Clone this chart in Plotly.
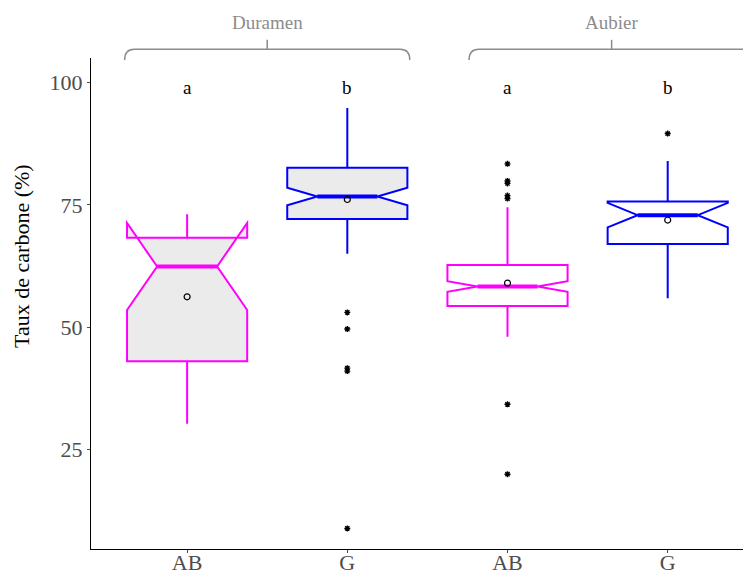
import plotly.graph_objects as go

# ---- data ----
positions = [0, 1, 2, 3]
tick_labels = ["AB", "G", "AB", "G"]
groups = ["Duramen", "Duramen", "Aubier", "Aubier"]
group_labels = ["Duramen", "Aubier"]
letters = ["a", "b", "a", "b"]
y_title = "Taux de carbone (%)"

q1 = [43.0, 72.1, 54.3, 67.0]
median = [62.4, 76.7, 58.3, 72.9]
q3 = [68.3, 82.6, 62.7, 75.7]
lowerfence = [30.2, 65.0, 48.0, 55.9]
upperfence = [73.1, 94.8, 74.5, 84.0]
notchspan = [8.9, 1.8, 1.1, 2.5]
means = [56.2, 76.1, 59.0, 71.9]

outliers = [
    [],
    [53.0, 49.6, 41.6, 41.0, 8.8],
    [83.4, 79.9, 79.4, 76.9, 76.3, 34.2, 19.9],
    [89.6],
]

line_colors = ["#FF00FF", "#0000FF", "#FF00FF", "#0000FF"]
fill_colors = ["#EBEBEB", "#EBEBEB", "#FFFFFF", "#FFFFFF"]

BOX_W = 0.75
NOTCH_W = 0.25
FONT = "Liberation Serif, Times New Roman, serif"

fig = go.Figure()

for i, p in enumerate(positions):
    fig.add_trace(go.Box(
        x=[p], q1=[q1[i]], median=[median[i]], q3=[q3[i]],
        lowerfence=[lowerfence[i]], upperfence=[upperfence[i]],
        notchspan=[notchspan[i]], notched=True, notchwidth=NOTCH_W,
        width=BOX_W, whiskerwidth=0,
        line=dict(color=line_colors[i], width=2),
        fillcolor=fill_colors[i], showlegend=False, hoverinfo="skip",
    ))
    # thicker median segment (ggplot fatten)
    half = BOX_W / 2 * (1 - 2 * NOTCH_W)
    fig.add_trace(go.Scatter(
        x=[p - half, p + half], y=[median[i], median[i]], mode="lines",
        line=dict(color=line_colors[i], width=4), showlegend=False, hoverinfo="skip",
    ))
    if outliers[i]:
        fig.add_trace(go.Scatter(
            x=[p] * len(outliers[i]), y=outliers[i], mode="markers",
            marker=dict(symbol="asterisk-open", size=5, color="black",
                        line=dict(color="black", width=1.4)),
            showlegend=False, hoverinfo="skip",
        ))

fig.add_trace(go.Scatter(
    x=positions, y=means, mode="markers",
    marker=dict(symbol="circle-open", size=6, color="black",
                line=dict(color="black", width=1.2)),
    showlegend=False, hoverinfo="skip",
))

# significance letters
for p, t in zip(positions, letters):
    fig.add_annotation(x=p, y=99, text=t, showarrow=False,
                       font=dict(family=FONT, size=19, color="black"),
                       xref="x", yref="y")

# group brackets
bracket_spans = [(-0.39, 1.39), (1.76, 3.54)]
gray = "#8C8C8C"
for (x0, x1), lab in zip(bracket_spans, group_labels):
    yb, yt, ytick = 0.996, 1.018, 1.037
    r = 0.06
    path = (f"M {x0},{yb} Q {x0},{yt} {x0 + r},{yt} "
            f"L {x1 - r},{yt} Q {x1},{yt} {x1},{yb}")
    fig.add_shape(type="path", path=path, xref="x", yref="paper",
                  line=dict(color=gray, width=1.5))
    xm = (x0 + x1) / 2
    fig.add_shape(type="line", x0=xm, x1=xm, y0=yt, y1=ytick, xref="x", yref="paper",
                  line=dict(color=gray, width=1.5))
    fig.add_annotation(x=xm, y=1.073, text=lab, showarrow=False, xref="x", yref="paper",
                       yanchor="middle",
                       font=dict(family=FONT, size=19, color=gray))

# y axis title (placed as rotated annotation)
fig.add_annotation(x=-0.1045, y=0.597, xref="paper", yref="paper", text=y_title,
                   textangle=-90, showarrow=False, xanchor="center", yanchor="middle",
                   font=dict(family=FONT, size=22, color="black"))

fig.update_layout(
    width=751, height=572,
    margin=dict(l=83, r=8, t=50, b=31, autoexpand=False),
    plot_bgcolor="white", paper_bgcolor="white",
    boxmode="overlay",
    font=dict(family=FONT, size=22, color="#4D4D4D"),
    xaxis=dict(
        range=[-0.6, 3.52], tickmode="array", tickvals=positions, ticktext=tick_labels,
        showgrid=False, zeroline=False, showline=True, linecolor="black", linewidth=1.3,
        ticks="outside", ticklen=3, tickcolor="#4D4D4D", automargin=False,
        ticklabelstandoff=-10,
        tickfont=dict(family=FONT, size=22, color="#4D4D4D"),
    ),
    yaxis=dict(
        range=[4.6, 105.05], tickvals=[25, 50, 75, 100],
        showgrid=False, zeroline=False, showline=True, linecolor="black", linewidth=1.3,
        ticks="outside", ticklen=3, tickcolor="#4D4D4D", automargin=False,
        tickfont=dict(family=FONT, size=22, color="#4D4D4D"),
    ),
)

fig.write_html("out.html")
